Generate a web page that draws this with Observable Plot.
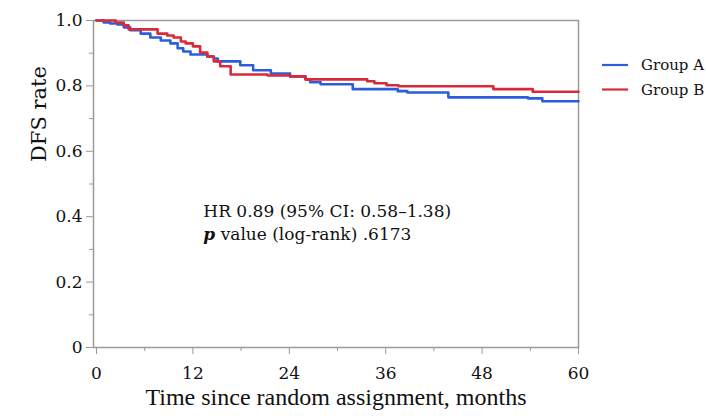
<!DOCTYPE html>
<html>
<head>
<meta charset="utf-8">
<script src="https://cdn.jsdelivr.net/npm/d3@7"></script>
<script src="https://cdn.jsdelivr.net/npm/@observablehq/plot@0.6"></script>
<style>
  html, body { margin: 0; padding: 0; background: #fff; }
  #chart { width: 706px; height: 416px; }
</style>
</head>
<body>
<div id="chart"></div>
<script>
// ---- data ----
const groups = ["Group A", "Group B"];
const groupColors = ["#2b5fd9", "#d82a3a"];

const monthsA = [0, 0.9, 1.7, 2.6, 3.4, 4.2, 5.5, 6.7, 8.0, 9.2, 10.1, 10.8, 11.7, 13.8, 14.6, 15.1, 17.9, 19.5, 21.7, 24.1, 26.0, 26.6, 27.9, 31.9, 37.5, 38.7, 43.8, 53.7, 55.5, 60];
const dfsA = [1.0, 0.994, 0.991, 0.988, 0.979, 0.970, 0.960, 0.948, 0.939, 0.930, 0.915, 0.905, 0.896, 0.890, 0.884, 0.875, 0.863, 0.848, 0.838, 0.829, 0.820, 0.811, 0.805, 0.790, 0.784, 0.780, 0.765, 0.762, 0.753, 0.753];

const monthsB = [0, 2.4, 3.4, 4.0, 7.6, 8.8, 9.6, 10.5, 11.1, 12.0, 12.9, 13.8, 14.6, 15.4, 16.7, 21.3, 24.1, 26.0, 33.7, 34.6, 36.1, 37.6, 49.4, 54.3, 60];
const dfsB = [1.0, 0.994, 0.985, 0.973, 0.960, 0.954, 0.948, 0.936, 0.930, 0.921, 0.902, 0.890, 0.875, 0.860, 0.835, 0.832, 0.829, 0.820, 0.814, 0.808, 0.802, 0.799, 0.790, 0.782, 0.782];

const xTicks = [0, 12, 24, 36, 48, 60];
const xMinorTicks = [6, 18, 30, 42, 54];
const yTicks = [0, 0.2, 0.4, 0.6, 0.8, 1.0];
const yMinorTicks = [0.1, 0.3, 0.5, 0.7, 0.9];

const xTitle = "Time since random assignment, months";
const yTitle = "DFS rate";
const hrText = "HR 0.89 (95% CI: 0.58\u20131.38)";
const pText = "p value (log-rank) .6173";

// ---- build table ----
const rows = [
  ...monthsA.map((m, i) => ({group: groups[0], month: m, dfs: dfsA[i]})),
  ...monthsB.map((m, i) => ({group: groups[1], month: m, dfs: dfsB[i]}))
];

const serif = "DejaVu Serif";
const times = "Liberation Serif";
const axisGray = "#9a9a9a";
const ink = "#111";

const svg = Plot.plot({
  width: 706,
  height: 416,
  marginLeft: 93,
  marginRight: 128,
  marginTop: 20,
  marginBottom: 69,
  insetLeft: 3,
  style: {background: "#fff", color: "#000"},
  x: {domain: [0, 60]},
  y: {domain: [0, 1]},
  color: {domain: groups, range: groupColors},
  marks: [
    Plot.frame({stroke: axisGray, strokeWidth: 1.5}),
    Plot.axisY({ticks: yTicks, tickSize: 7, tickPadding: 4, fontSize: 17, fontFamily: serif, stroke: axisGray, fill: ink,
      tickFormat: d => d === 0 ? "0" : d.toFixed(1), label: null}),
    Plot.axisY({ticks: yMinorTicks, tickSize: 4, stroke: axisGray, tickFormat: () => "", label: null}),
    Plot.axisX({ticks: xTicks, tickSize: 7, tickPadding: 12, fontSize: 17, fontFamily: serif, stroke: axisGray, fill: ink,
      label: null}),
    Plot.axisX({ticks: xMinorTicks, tickSize: 4, stroke: axisGray, tickFormat: () => "", label: null}),
    Plot.line(rows, {x: "month", y: "dfs", z: "group", stroke: "group", strokeWidth: 2.6, curve: "step-after"}),
    Plot.text([hrText], {x: 13.3, y: 0.415, textAnchor: "start", fontSize: 17, fontFamily: serif, fill: ink}),
    Plot.text([pText], {x: 13.3, y: 0.345, textAnchor: "start", fontSize: 17, fontFamily: serif, fill: ink, className: "pline"}),
    Plot.text([xTitle], {frameAnchor: "bottom", dy: 57, fontSize: 24, fontFamily: times, fill: ink}),
    Plot.text([yTitle], {frameAnchor: "left", dx: -54, dy: -22, rotate: -90, fontSize: 21, fontFamily: serif, fill: ink})
  ]
});

// italic "p" in the p-value line
d3.select(svg).selectAll(".pline text").each(function() {
  const t = d3.select(this);
  const s = t.text();
  t.text("");
  t.append("tspan").attr("font-style", "italic").attr("font-weight", "bold").text(s.slice(0, 1));
  t.append("tspan").text(s.slice(1));
});

// legend
const lg = d3.select(svg).append("g")
  .attr("font-family", serif).attr("font-size", 15).attr("text-anchor", "start");
groups.forEach((g, i) => {
  const y = 65 + i * 24.5;
  lg.append("line").attr("x1", 602).attr("x2", 628).attr("y1", y).attr("y2", y)
    .attr("stroke", groupColors[i]).attr("stroke-width", 2.2);
  lg.append("text").attr("x", 641).attr("y", y).attr("dy", "0.35em")
    .attr("text-anchor", "start").attr("fill", ink).text(g);
});

document.getElementById("chart").appendChild(svg);
</script>
</body>
</html>
